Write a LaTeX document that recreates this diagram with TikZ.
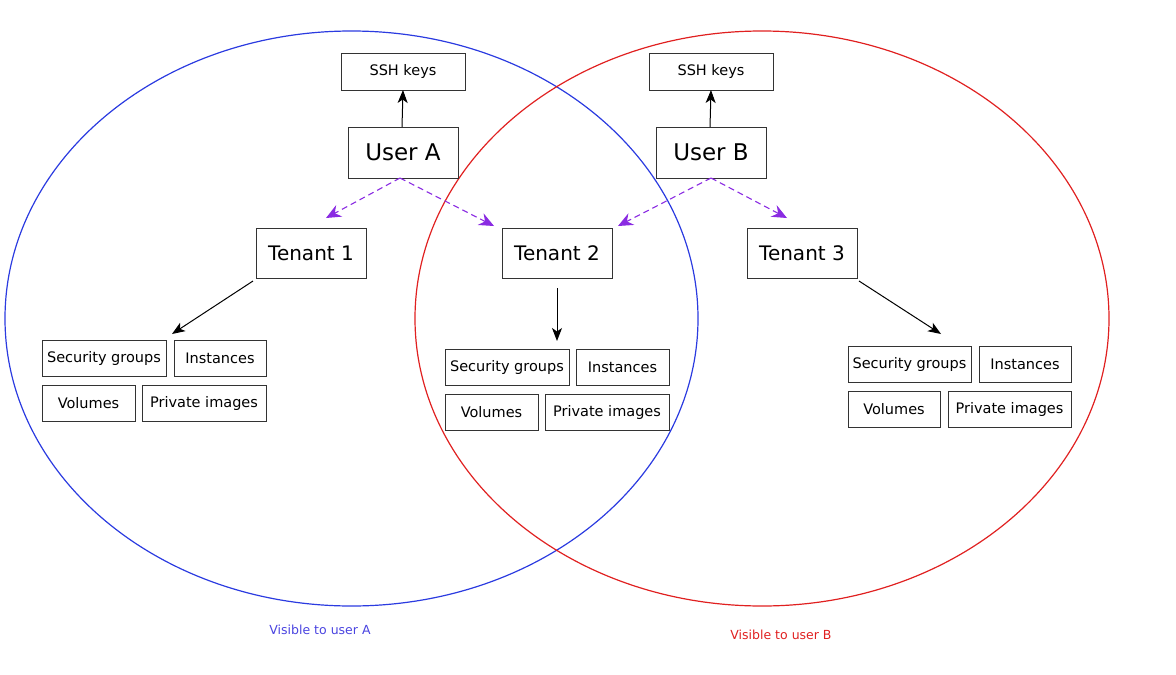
\documentclass[tikz,border=0pt]{standalone}
\usepackage{fontspec}
\setmainfont{DejaVu Sans}
\usetikzlibrary{arrows.meta}
\definecolor{cblue}{HTML}{2B3BE0}
\definecolor{cred}{HTML}{E02020}
\definecolor{cpurple}{HTML}{8A2BE2}
\definecolor{lblblue}{HTML}{4A44E0}
\begin{document}
\begin{tikzpicture}[x=1pt,y=-1pt,
  box/.style={draw=black!80,line width=0.9pt,inner sep=0,outer sep=0,fill=white},
  arr/.style={-{Stealth[length=13pt,width=10pt,inset=3.5pt]},line width=1pt},
  darr/.style={-{Stealth[length=15pt,width=13pt,inset=5pt]},line width=1.1pt,cpurple,dash pattern=on 6pt off 4pt},
  small/.style={font=\fontsize{14.5}{16}\selectfont},
  big/.style={font=\fontsize{23}{26}\selectfont},
  mid/.style={font=\fontsize{20}{24}\selectfont}]
\useasboundingbox (0,0) rectangle (1176,675);
\draw[cblue,line width=1.2pt] (351.5,318.5) ellipse [x radius=346.5,y radius=287.5];
\draw[cred,line width=1.2pt] (762,318.5) ellipse [x radius=347,y radius=287.5];
% boxes: name, center, size
\newcommand{\bx}[7]{\node[box,#7,minimum width=#4pt,minimum height=#5pt] (#1) at (#2,#3) {#6};}
\bx{sshA}{403}{71.5}{124}{37}{SSH keys}{small}
\bx{ua}{403}{152.5}{110}{51}{User A}{big}
\bx{sshB}{711}{71.5}{124}{37}{SSH keys}{small}
\bx{ub}{711}{152.5}{110}{51}{User B}{big}
\bx{t1}{311}{253}{110}{50}{Tenant 1}{mid}
\bx{t2}{557}{253}{110}{50}{Tenant 2}{mid}
\bx{t3}{802}{253}{110}{50}{Tenant 3}{mid}
% group 1
\bx{sg1}{104}{358}{124}{36}{Security groups}{small}
\bx{in1}{220}{358}{92}{36}{Instances}{small}
\bx{vo1}{88.5}{403}{93}{36}{Volumes}{small}
\bx{pi1}{204}{403}{124}{36}{Private images}{small}
% group 2
\bx{sg2}{507}{367}{124}{36}{Security groups}{small}
\bx{in2}{622.5}{367}{93}{36}{Instances}{small}
\bx{vo2}{491.5}{412}{93}{36}{Volumes}{small}
\bx{pi2}{607}{412}{124}{36}{Private images}{small}
% group 3
\bx{sg3}{909.5}{364}{123}{36}{Security groups}{small}
\bx{in3}{1025}{364}{92}{36}{Instances}{small}
\bx{vo3}{894}{409}{92}{36}{Volumes}{small}
\bx{pi3}{1009.5}{409}{123}{36}{Private images}{small}
% arrows
\draw[arr] (ua.north) ++(-1,0) -- (sshA.south);
\draw[arr] (ub.north) ++(-1,0) -- (sshB.south);
\coordinate (a1) at (326,218);
\coordinate (a2) at (494,226);
\coordinate (b1) at (618,226);
\coordinate (b2) at (787,218);
\draw[darr] (ua.south) ++(-3,0) -- (a1);
\draw[darr] (ua.south) ++(-3,0) -- (a2);
\draw[darr] (ub.south) -- (b1);
\draw[darr] (ub.south) -- (b2);
\coordinate (s1) at (253,281);
\coordinate (e1) at (172,334);
\coordinate (s2) at (557,288);
\coordinate (e2) at (557,341);
\coordinate (s3) at (859,281);
\coordinate (e3) at (941,334);
\draw[arr] (s1) -- (e1);
\draw[arr] (s2) -- (e2);
\draw[arr] (s3) -- (e3);
\node[text=lblblue,font=\fontsize{12.5}{14}\selectfont] (la) at (320,630) {Visible to user A};
\node[text=cred,font=\fontsize{12.5}{14}\selectfont] (lb) at (781,635) {Visible to user B};
\end{tikzpicture}
\end{document}
